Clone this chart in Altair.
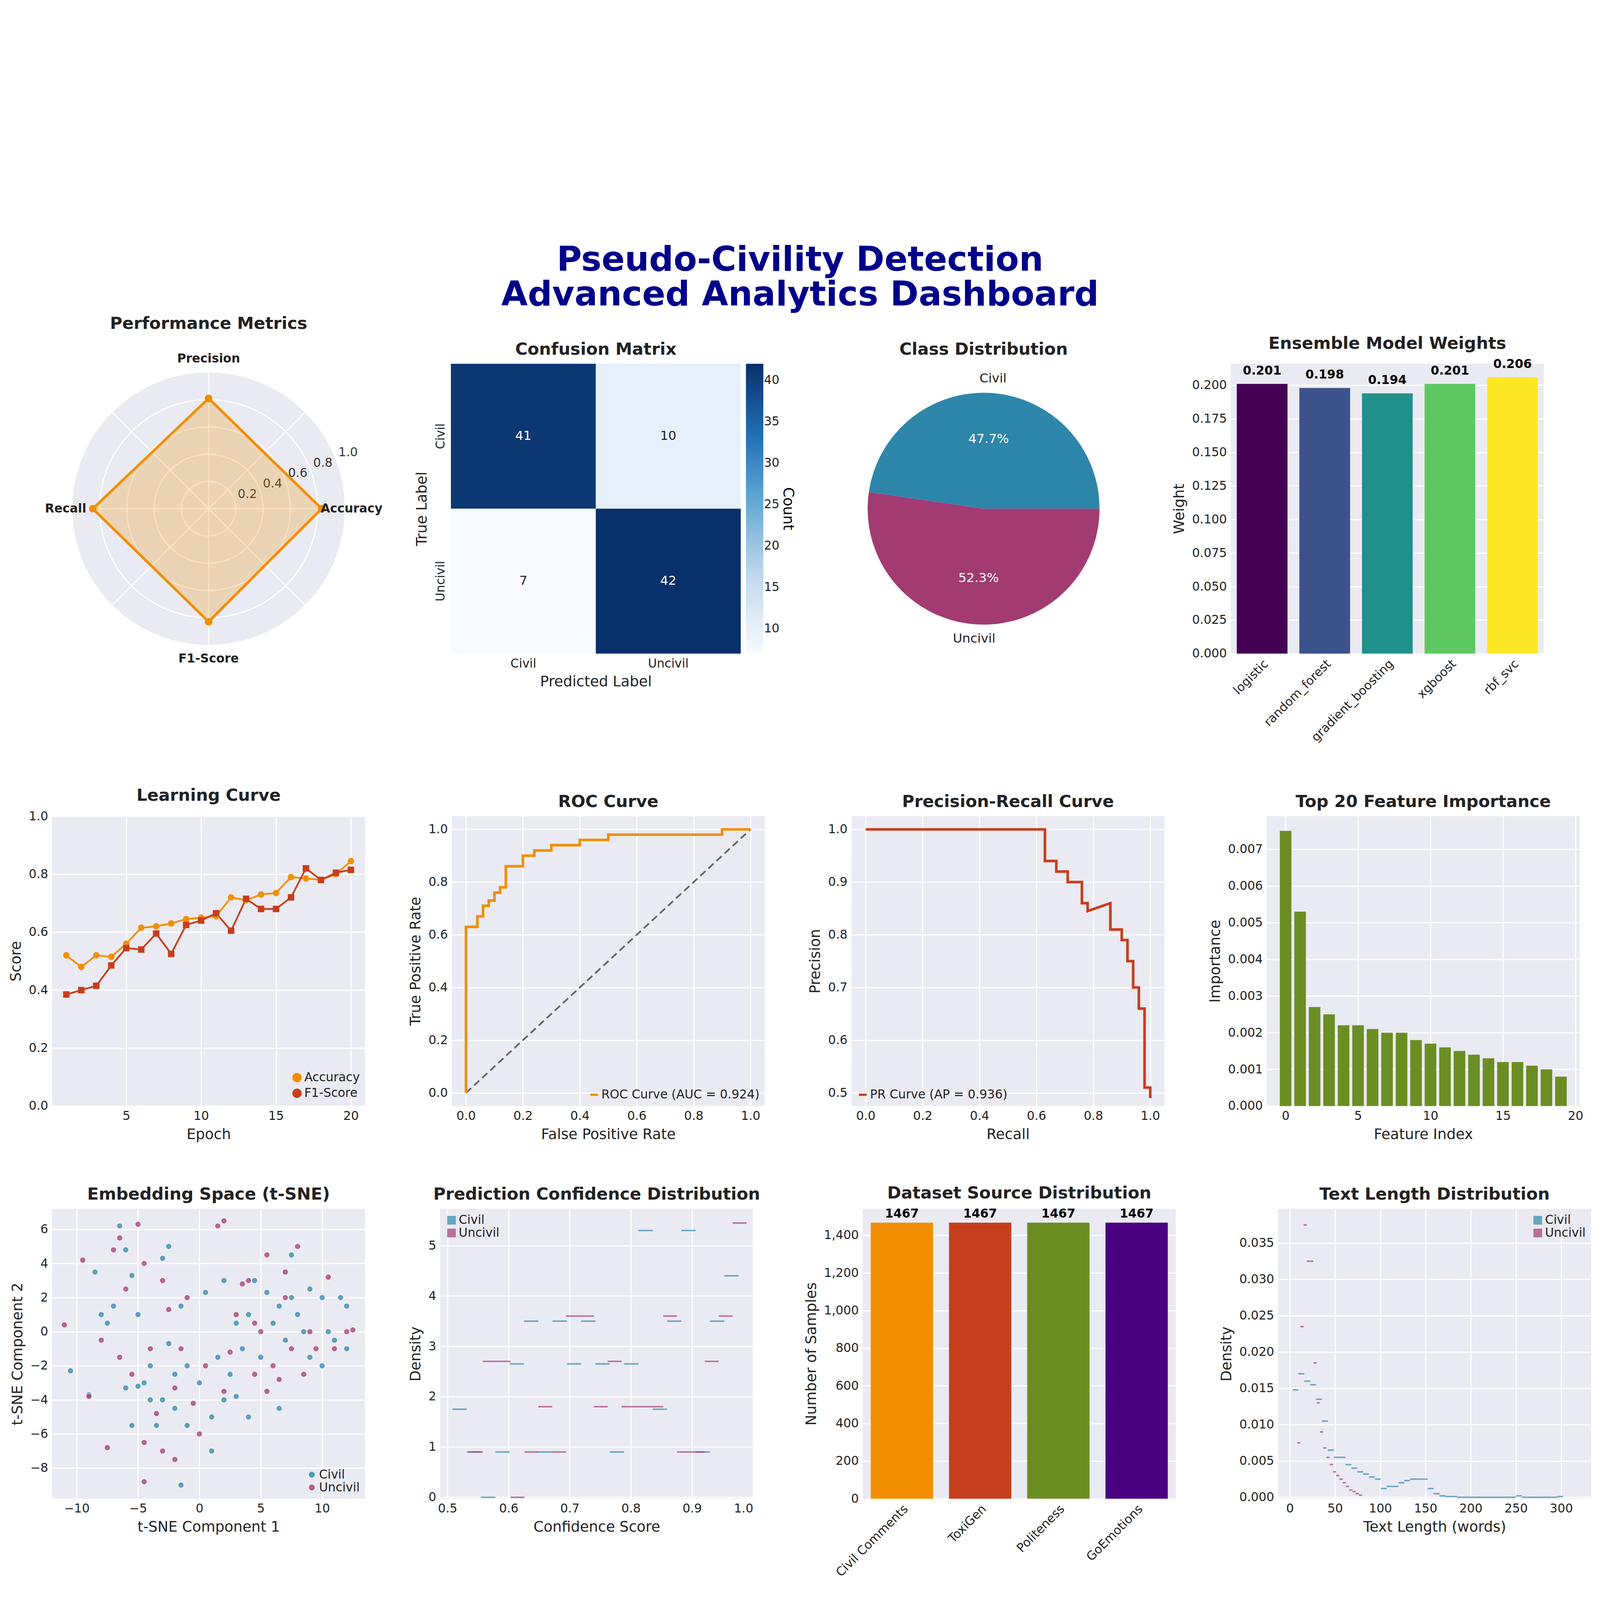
import numpy as np
import pandas as pd
import altair as alt

# ---- data ----
metric_names = ["Accuracy", "Precision", "Recall", "F1-Score"]
metric_values = [0.83, 0.81, 0.85, 0.83]

cm_true = ["Civil", "Civil", "Uncivil", "Uncivil"]
cm_pred = ["Civil", "Uncivil", "Civil", "Uncivil"]
cm_count = [41, 10, 7, 42]

pie_labels = ["Civil", "Uncivil"]
pie_share = [0.477, 0.523]

model_names = ["logistic", "random_forest", "gradient_boosting", "xgboost", "rbf_svc"]
model_weights = [0.201, 0.198, 0.194, 0.201, 0.206]
model_colors = ["#440154", "#3b528b", "#21918c", "#5ec962", "#fde725"]

epochs = list(range(1, 21))
acc_curve = [0.52, 0.48, 0.52, 0.515, 0.56, 0.615, 0.62, 0.63, 0.645, 0.65,
             0.655, 0.72, 0.71, 0.73, 0.735, 0.79, 0.785, 0.78, 0.80, 0.845]
f1_curve = [0.385, 0.40, 0.415, 0.485, 0.545, 0.54, 0.595, 0.525, 0.625, 0.64,
            0.665, 0.605, 0.715, 0.68, 0.68, 0.72, 0.82, 0.78, 0.805, 0.815]

roc_fpr = [0, 0, 0.04, 0.06, 0.08, 0.10, 0.12, 0.14, 0.20, 0.24, 0.30, 0.40, 0.50, 0.90, 1.0]
roc_tpr = [0, 0.63, 0.67, 0.71, 0.73, 0.76, 0.78, 0.86, 0.90, 0.92, 0.94, 0.96, 0.98, 1.0, 1.0]

pr_recall = [0, 0.63, 0.63, 0.67, 0.67, 0.71, 0.71, 0.76, 0.76, 0.78, 0.78, 0.86, 0.86,
             0.90, 0.90, 0.92, 0.92, 0.94, 0.94, 0.96, 0.96, 0.98, 0.98, 1.0, 1.0]
pr_precision = [1, 1, 0.94, 0.94, 0.92, 0.92, 0.90, 0.90, 0.86, 0.86, 0.845, 0.86, 0.81,
                0.81, 0.79, 0.79, 0.75, 0.75, 0.70, 0.70, 0.66, 0.66, 0.51, 0.51, 0.49]

feat_importance = [0.0075, 0.0053, 0.0027, 0.0025, 0.0022, 0.0022, 0.0021, 0.0020, 0.0020, 0.0018,
                   0.0017, 0.0016, 0.0015, 0.0014, 0.0013, 0.0012, 0.0012, 0.0011, 0.0010, 0.0008]

civil_x = [-10.5, -9, -8.5, -8, -7.5, -6.5, -6, -5.5, -6, -5.5, -5, -4.5, -4, -4, -3.5, -3, -3, -2.5,
           -2, -2, -1.5, -1.5, -1, -1, 0, 0.5, 1, 1, 2, 2.5, 3, 3.5, 4, 3, 4, 4.5, 5, 5.5, 6, 6.5,
           6.5, 7, 7.5, 7.5, 8, 8.5, 9, 9, 10, 10.5, 11, 11.5, 12, 10, 12, 2, -2.5, -7, -5, 1.5]
civil_y = [-2.3, -3.7, 3.5, 1, 0.5, 6.2, 4.8, 3.3, -3.3, -5.5, -3.2, -3, -2, -4, -5.5, -4, 4.3, 5,
           -2.5, -4.5, -9, 1.5, -2, -5.5, -3, 2.3, -5, -7, -4, -2.5, -3.8, -1, -5, 0.5, 1, 3, -1.5, 2.3,
           0.5, -4.5, 1.5, -0.5, 4.5, 2, 1, 0, 2.5, -1.5, 2, 0, -0.5, 2, 1.5, -2, -1, 3, -0.7, 1.5, 1, -1.5]
uncivil_x = [-11, -9.5, -9, -8, -7.5, -7, -6.5, -6, -5.5, -5, -4.5, -4.5, -4, -3.5, -3, -3, -2.5, -2,
             -2, -1.5, -1, -0.5, 0.5, 1.5, 2, 2, 2.5, 3, 3.5, 4, 4.5, 5, 5.5, 5.5, 6, 6.5, 7, 7.5, 8,
             8.5, 9, 9.5, 10.5, 11, 12, 12.5, -4.5, 0, -6.5, 4.5, 7]
uncivil_y = [0.4, 4.2, -3.8, -0.5, -6.8, 4.8, 5.5, 2.5, -2.5, 6.3, 4, -6.5, -1, -4.8, 3, -7, 1.3, -3.3,
             -7.5, -1, 2, -4.2, -2, 6.2, 6.5, -3.5, -1.2, 1, 2.8, 3, -2.5, 0, 4.5, -3.5, -2, -2.8, 3.5,
             -1, 5, -2.5, 0, -1, 3.2, -1, 0, 0.1, -8.8, -6, -1.5, 0.5, 2]

conf_civil_start, conf_civil_width = 0.508, 0.0234
conf_civil = [1.75, 0.9, 0, 0.9, 2.65, 3.5, 0.9, 3.5, 2.65, 3.5,
              2.65, 0.9, 2.65, 5.3, 1.75, 3.5, 5.3, 0.9, 3.5, 4.4]
conf_uncivil_start, conf_uncivil_width = 0.535, 0.0227
conf_uncivil = [0.9, 2.7, 2.7, 0, 0.9, 1.8, 0.9, 3.6, 3.6, 1.8,
                2.7, 1.8, 1.8, 1.8, 3.6, 0.9, 0.9, 2.7, 3.6, 5.45]

len_civil_start, len_civil_width = 3, 6.5
len_civil = [0.0148, 0.017, 0.016, 0.0155, 0.0135, 0.0105, 0.0065, 0.0055, 0.0055, 0.0045,
             0.004, 0.0035, 0.0032, 0.0028, 0.0025, 0.0012, 0.0015, 0.0015, 0.002, 0.0023,
             0.0025, 0.0025, 0.0025, 0.0012, 0.0005, 0.0002, 0.0001, 0.0001, 0.0, 0.0,
             0.0, 0.0, 0.0, 0.0, 0.0, 0.0, 0.0, 0.0, 0.0002, 0.0, 0.0, 0.0, 0.0, 0.0, 0.0, 0.0001]
len_uncivil_start, len_uncivil_width = 8, 3.6
len_uncivil = [0.0075, 0.0235, 0.0375, 0.0325, 0.0325, 0.0185, 0.013, 0.009, 0.0068, 0.0055,
               0.0045, 0.0035, 0.003, 0.0025, 0.002, 0.0015, 0.001, 0.0008, 0.0005, 0.0003]

source_names = ["Civil Comments", "ToxiGen", "Politeness", "GoEmotions"]
source_counts = [1467, 1467, 1467, 1467]
source_colors = ["#F18F01", "#C73E1D", "#6B8E23", "#4B0082"]

BLUE, PINK, ORANGE, RED = "#2E86AB", "#A23B72", "#F18F01", "#C73E1D"
W, H = 1080, 1000
PX = 470  # pixels per unit on the radar


def hist_frame(start, width, heights, label):
    edges = start + width * np.arange(len(heights) + 1)
    return pd.DataFrame({"x": edges[:-1], "x2": edges[1:], "h": heights, "cls": label})


# ---- 1 radar ----
ang = np.deg2rad([0, 90, 180, 270])
vals = np.array(metric_values)
mdf = pd.DataFrame({"name": metric_names, "x": vals * np.cos(ang), "y": vals * np.sin(ang), "o": range(4)})
loop = pd.concat([mdf, mdf.iloc[[0]].assign(o=4)])
poly = pd.DataFrame({"x": [mdf.x[2], 0, mdf.x[0]], "y": [0, mdf.y[1], 0], "y2": [0, mdf.y[3], 0]})
xs = alt.X("x:Q", scale=alt.Scale(domain=[-W / 2 / PX, W / 2 / PX], nice=False, zero=False), axis=None)
ys = alt.Y("y:Q", scale=alt.Scale(domain=[-H / 2 / PX, H / 2 / PX], nice=False, zero=False), axis=None)

# polar grid: background disc, rings and spokes
circ_t = np.deg2rad(np.arange(0, 361, 3))
disc_x = np.cos(circ_t[:61])
disc = alt.Chart(pd.DataFrame({"x": disc_x, "y": np.sqrt(np.clip(1 - disc_x ** 2, 0, 1)),
                               "y2": -np.sqrt(np.clip(1 - disc_x ** 2, 0, 1))})
                 ).mark_area(color="#EAEAF2").encode(xs, ys, y2="y2:Q")
ring_rows = []
for r in [0.2, 0.4, 0.6, 0.8]:
    ring_rows.append(pd.DataFrame({"x": r * np.cos(circ_t), "y": r * np.sin(circ_t), "r": r, "o": range(len(circ_t))}))
ring_lines = alt.Chart(pd.concat(ring_rows)).mark_line(color="white", strokeWidth=4).encode(
    xs, ys, detail="r:N", order="o:Q")
sp_ang = np.deg2rad(np.arange(0, 360, 45))
spokes = alt.Chart(pd.DataFrame({"x": 0 * sp_ang, "y": 0 * sp_ang, "x2": np.cos(sp_ang), "y2": np.sin(sp_ang)})
                   ).mark_rule(color="white", strokeWidth=4).encode(xs, ys, x2="x2:Q", y2="y2:Q")
rl = pd.DataFrame({"t": ["0.2", "0.4", "0.6", "0.8", "1.0"], "r": [0.2, 0.4, 0.6, 0.8, 1.0]})
rl["x"] = rl.r * np.cos(np.deg2rad(22.5)) + 0.1
rl["y"] = rl.r * np.sin(np.deg2rad(22.5)) + 0.03
ring_text = alt.Chart(rl).mark_text(fontSize=42, color="#333").encode(xs, ys, text="t:N")
area = alt.Chart(poly).mark_area(color=ORANGE, opacity=0.25).encode(xs, ys, y2="y2:Q")
outline = alt.Chart(loop).mark_line(color=ORANGE, strokeWidth=9).encode(xs, ys, order="o:Q")
pts = alt.Chart(mdf).mark_circle(color=ORANGE, size=700, opacity=1).encode(xs, ys)
lab = mdf.assign(x=np.cos(ang) * 1.05, y=np.sin(ang) * 1.1)
lab_text = alt.Chart(lab).mark_text(fontSize=42, fontWeight="bold", color="#222").encode(xs, ys, text="name:N")
radar = alt.layer(disc, ring_lines, spokes, ring_text, area, outline, pts, lab_text).properties(
    width=W, height=H, view=alt.ViewBackground(fill=None, stroke=None),
    title=alt.TitleParams("Performance Metrics", offset=70))

# ---- 2 confusion matrix ----
cdf = pd.DataFrame({"t": cm_true, "p": cm_pred, "n": cm_count})
cbase = alt.Chart(cdf).encode(
    x=alt.X("p:N", title="Predicted Label", axis=alt.Axis(labelAngle=0, grid=False)),
    y=alt.Y("t:N", title="True Label", axis=alt.Axis(labelAngle=-90, labelAlign="center", labelBaseline="bottom", grid=False)))
heat = cbase.mark_rect().encode(color=alt.Color(
    "n:Q", scale=alt.Scale(domain=[7, 42], range=["#f7fbff", "#c6dbef", "#6baed6", "#2171b5", "#08306b"]),
    legend=alt.Legend(title="Count", gradientLength=1000, gradientThickness=60, orient="right",
                      titleOrient="right", titleFontWeight="normal", titleFontSize=50, tickCount=8)))
heat_txt = cbase.mark_text(fontSize=44).encode(
    text="n:Q", color=alt.condition(alt.datum.n > 25, alt.value("white"), alt.value("#222")))
conf = (heat + heat_txt).properties(width=1000, height=H, title="Confusion Matrix")

# ---- 3 pie ----
pdf = pd.DataFrame({"c": pie_labels, "s": pie_share, "pct": [f"{v * 100:.1f}%" for v in pie_share], "o": [0, 1]})
th = alt.Theta("s:Q", stack=True, scale=alt.Scale(range=[2.5 * np.pi, 0.5 * np.pi]))
pbase = alt.Chart(pdf).encode(theta=th, order="o:Q")
pie = alt.layer(
    pbase.mark_arc(radius=400).encode(color=alt.Color("c:N", scale=alt.Scale(domain=pie_labels, range=[BLUE, PINK]), legend=None)),
    pbase.mark_text(radius=240, fontSize=44, color="white").encode(text="pct:N"),
    pbase.mark_text(radius=450, fontSize=44, color="#222").encode(text="c:N"),
).properties(width=W, height=H, view=alt.ViewBackground(fill=None, stroke=None), title="Class Distribution")

# ---- 4 ensemble weights ----
edf = pd.DataFrame({"m": model_names, "w": model_weights})
ebase = alt.Chart(edf).encode(x=alt.X("m:N", sort=model_names, title=None,
                                      axis=alt.Axis(labelAngle=-45, labelAlign="right", grid=False)),
                              y=alt.Y("w:Q", title="Weight", scale=alt.Scale(domain=[0, 0.216], nice=False),
                                      axis=alt.Axis(values=[round(v, 3) for v in np.arange(0, 0.201, 0.025)], format=".3f")))
ens = (ebase.mark_bar(size=175).encode(color=alt.Color("m:N", scale=alt.Scale(domain=model_names, range=model_colors), legend=None))
       + ebase.mark_text(dy=-45, fontSize=42, fontWeight="bold").encode(text=alt.Text("w:Q", format=".3f"))
       ).properties(width=W, height=H, title="Ensemble Model Weights")

# ---- 5 learning curve ----
ldf = pd.concat([pd.DataFrame({"e": epochs, "v": acc_curve, "s": "Accuracy"}),
                 pd.DataFrame({"e": epochs, "v": f1_curve, "s": "F1-Score"})])
lc_color = alt.Color("s:N", scale=alt.Scale(domain=["Accuracy", "F1-Score"], range=[ORANGE, RED]),
                     legend=alt.Legend(title=None, orient="bottom-right", symbolStrokeWidth=6))
lbase = alt.Chart(ldf).encode(x=alt.X("e:Q", title="Epoch", scale=alt.Scale(domain=[0.05, 20.95], nice=False),
                                      axis=alt.Axis(values=[5, 10, 15, 20])),
                              y=alt.Y("v:Q", title="Score", scale=alt.Scale(domain=[0, 1]),
                                      axis=alt.Axis(values=[0, 0.2, 0.4, 0.6, 0.8, 1.0], format=".1f")),
                              color=lc_color)
learn = (lbase.mark_line(strokeWidth=6)
         + lbase.mark_point(filled=True, size=500, opacity=1).encode(
             shape=alt.Shape("s:N", scale=alt.Scale(domain=["Accuracy", "F1-Score"], range=["circle", "square"]), legend=None))
         ).properties(width=W, height=H, title="Learning Curve")

# ---- 6 ROC ----
rdf = pd.DataFrame({"x": roc_fpr, "y": roc_tpr, "s": "ROC Curve (AUC = 0.924)"})
rx = alt.X("x:Q", title="False Positive Rate", scale=alt.Scale(domain=[-0.05, 1.05], nice=False),
           axis=alt.Axis(values=[0, 0.2, 0.4, 0.6, 0.8, 1.0], format=".1f"))
ry = alt.Y("y:Q", title="True Positive Rate", scale=alt.Scale(domain=[-0.05, 1.05], nice=False),
           axis=alt.Axis(values=[0, 0.2, 0.4, 0.6, 0.8, 1.0], format=".1f"))
diag = alt.Chart(pd.DataFrame({"x": [0, 1], "y": [0, 1]})).mark_line(color="#666", strokeDash=[24, 14], strokeWidth=6).encode(rx, ry)
roc = (diag + alt.Chart(rdf).mark_line(interpolate="step-after", strokeWidth=9).encode(
    rx, ry, color=alt.Color("s:N", scale=alt.Scale(range=[ORANGE]),
                            legend=alt.Legend(title=None, orient="bottom-right", symbolType="stroke", symbolStrokeWidth=8)))
       ).properties(width=W, height=H, title="ROC Curve")

# ---- 7 PR ----
prdf = pd.DataFrame({"x": pr_recall, "y": pr_precision, "o": range(len(pr_recall)), "s": "PR Curve (AP = 0.936)"})
prc = alt.Chart(prdf).mark_line(strokeWidth=9).encode(
    x=alt.X("x:Q", title="Recall", scale=alt.Scale(domain=[-0.05, 1.05], nice=False),
            axis=alt.Axis(values=[0, 0.2, 0.4, 0.6, 0.8, 1.0], format=".1f")),
    y=alt.Y("y:Q", title="Precision", scale=alt.Scale(domain=[0.475, 1.025], nice=False),
            axis=alt.Axis(values=[0.5, 0.6, 0.7, 0.8, 0.9, 1.0], format=".1f")),
    order="o:Q",
    color=alt.Color("s:N", scale=alt.Scale(range=[RED]),
                    legend=alt.Legend(title=None, orient="bottom-left", symbolType="stroke", symbolStrokeWidth=8))
).properties(width=W, height=H, title="Precision-Recall Curve")

# ---- 8 feature importance ----
fdf = pd.DataFrame({"i": range(20), "v": feat_importance})
feat = alt.Chart(fdf).mark_bar(size=40, color="#6B8E23").encode(
    x=alt.X("i:Q", title="Feature Index", scale=alt.Scale(domain=[-1.2, 20.2], nice=False),
            axis=alt.Axis(values=[0, 5, 10, 15, 20])),
    y=alt.Y("v:Q", title="Importance", scale=alt.Scale(domain=[0, 0.0079], nice=False),
            axis=alt.Axis(values=[round(v, 3) for v in np.arange(0, 0.0071, 0.001)], format=".3f"))
).properties(width=W, height=H, title="Top 20 Feature Importance")

# ---- 9 t-SNE ----
tdf = pd.concat([pd.DataFrame({"x": civil_x, "y": civil_y, "c": "Civil"}),
                 pd.DataFrame({"x": uncivil_x, "y": uncivil_y, "c": "Uncivil"})])
tsne = alt.Chart(tdf).mark_circle(size=420, opacity=0.75, stroke="white", strokeWidth=2).encode(
    x=alt.X("x:Q", title="t-SNE Component 1", scale=alt.Scale(domain=[-12, 13.5], nice=False),
            axis=alt.Axis(values=[-10, -5, 0, 5, 10])),
    y=alt.Y("y:Q", title="t-SNE Component 2", scale=alt.Scale(domain=[-9.8, 7.2], nice=False),
            axis=alt.Axis(values=[-8, -6, -4, -2, 0, 2, 4, 6])),
    color=alt.Color("c:N", scale=alt.Scale(domain=["Civil", "Uncivil"], range=[BLUE, PINK]),
                    legend=alt.Legend(title=None, orient="bottom-right", symbolSize=500, symbolOpacity=0.8))
).properties(width=W, height=H, title="Embedding Space (t-SNE)")


def hist_chart(df, xtitle, xdomain, xvals, ydomain, yvals, title, legend_orient, xfmt, yfmt):
    return alt.Chart(df).mark_bar(opacity=0.7, binSpacing=0).encode(
        x=alt.X("x:Q", title=xtitle, scale=alt.Scale(domain=xdomain, nice=False), axis=alt.Axis(values=xvals, format=xfmt)),
        x2="x2:Q",
        y=alt.Y("h:Q", title="Density", scale=alt.Scale(domain=ydomain, nice=False), axis=alt.Axis(values=yvals, format=yfmt)),
        color=alt.Color("cls:N", scale=alt.Scale(domain=["Civil", "Uncivil"], range=[BLUE, PINK]),
                        legend=alt.Legend(title=None, orient=legend_orient, symbolType="square", symbolSize=900))
    ).properties(width=W, height=H, title=title)


# ---- 10 confidence ----
cfd = pd.concat([hist_frame(conf_civil_start, conf_civil_width, conf_civil, "Civil"),
                 hist_frame(conf_uncivil_start, conf_uncivil_width, conf_uncivil, "Uncivil")])
confh = hist_chart(cfd, "Confidence Score", [0.488, 1.0], [0.5, 0.6, 0.7, 0.8, 0.9, 1.0], [0, 5.7],
                   [0, 1, 2, 3, 4, 5], "Prediction Confidence Distribution", "top-left", ".1f", "d")

# ---- 11 dataset source ----
sdf = pd.DataFrame({"s": source_names, "n": source_counts})
sbase = alt.Chart(sdf).encode(x=alt.X("s:N", sort=source_names, title=None,
                                      axis=alt.Axis(labelAngle=-45, labelAlign="right", grid=False)),
                              y=alt.Y("n:Q", title="Number of Samples", scale=alt.Scale(domain=[0, 1540], nice=False),
                                      axis=alt.Axis(values=list(range(0, 1401, 200)))))
src = (sbase.mark_bar(size=215).encode(color=alt.Color("s:N", scale=alt.Scale(domain=source_names, range=source_colors), legend=None))
       + sbase.mark_text(dy=-30, fontSize=42, fontWeight="bold").encode(text="n:Q")
       ).properties(width=W, height=H, title="Dataset Source Distribution")

# ---- 12 text length ----
tld = pd.concat([hist_frame(len_civil_start, len_civil_width, len_civil, "Civil"),
                 hist_frame(len_uncivil_start, len_uncivil_width, len_uncivil, "Uncivil")])
tlen = hist_chart(tld, "Text Length (words)", [-13, 333], [0, 50, 100, 150, 200, 250, 300],
                  [0, 0.0395], [0, 0.005, 0.01, 0.015, 0.02, 0.025, 0.03, 0.035],
                  "Text Length Distribution", "top-right", "d", ".3f")

row1 = alt.hconcat(radar, conf, pie, ens, spacing=110).resolve_scale(color="independent")
row2 = alt.hconcat(learn, roc, prc, feat, spacing=150).resolve_scale(color="independent")
row3 = alt.hconcat(tsne, confh, src, tlen, spacing=150).resolve_scale(color="independent")

chart = alt.vconcat(row1, row2, row3, spacing=150).resolve_scale(color="independent").properties(
    title=alt.TitleParams(["Pseudo-Civility Detection", "Advanced Analytics Dashboard"], fontSize=118,
                          color="#00008B", fontWeight="bold", anchor="middle", offset=10),
    background="white", padding=20
).configure(font="DejaVu Sans").configure_view(fill="#EAEAF2", stroke=None).configure_axis(
    labelFontSize=42, titleFontSize=50, titleFontWeight="normal", grid=True, gridColor="white", gridWidth=4,
    domain=False, ticks=False, labelPadding=14, titlePadding=18, labelColor="#222", titleColor="#222", labelLimit=0
).configure_title(fontSize=58, fontWeight="bold", offset=20, color="#222").configure_legend(
    labelFontSize=42, titleFontSize=46, labelColor="#222", symbolSize=700, labelLimit=0)

chart.save("out.html", embed_options={"renderer": "svg", "actions": False})
